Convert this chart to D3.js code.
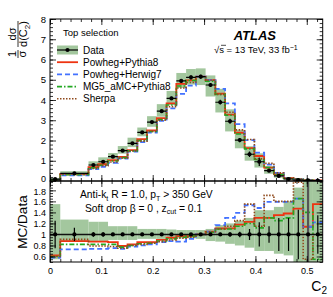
<!DOCTYPE html>
<html lang="en">
<head>
<meta charset="UTF-8">
<title>C2 - Top selection</title>
<script src="https://cdn.jsdelivr.net/npm/d3@7"></script>
<style>
  body { margin: 0; background: #fff; }
  svg text { font-family: "Liberation Sans", Arial, sans-serif; fill: #000; }
</style>
</head>
<body>
<div id="chart"></div>
<script>
// bin edges in C2
var edges = [0, 0.02, 0.075, 0.094, 0.113, 0.132, 0.151, 0.17, 0.189, 0.208, 0.227, 0.246, 0.265,
             0.284, 0.303, 0.322, 0.341, 0.36, 0.379, 0.398, 0.417, 0.436, 0.455, 0.474, 0.493, 0.512, 0.531];
// unfolded data, 1/sigma dsigma/dC2
var dataVals = [0.09, 0.38, 0.79, 0.95, 1.2, 1.5, 1.86, 2.4, 2.91, 3.45, 4.08, 4.94, 5.12,
                5.15, 4.74, 3.89, 2.95, 2.02, 1.32, 0.95, 0.51, 0.25, 0.1, 0.05, 0.03, 0.02];
// relative stat error (bars) and total uncertainty band (up / down)
var statErr = [0.25, 0.12, 0.04, 0.04, 0.03, 0.03, 0.03, 0.03, 0.02, 0.02, 0.02, 0.02, 0.02,
               0.02, 0.02, 0.03, 0.04, 0.05, 0.1, 0.22, 0.15, 0.3, 0.3, 0.45, 1.2, 0.35];
var bandUp = [0.55, 0.27, 0.23, 0.23, 0.15, 0.15, 0.15, 0.1, 0.1, 0.1, 0.09, 0.08, 0.08,
              0.08, 0.1, 0.17, 0.2, 0.25, 0.3, 0.44, 0.44, 0.5, 0.6, 0.85, 1.1, 1.1];
var bandDn = [0.45, 0.13, 0.12, 0.12, 0.1, 0.1, 0.1, 0.08, 0.08, 0.08, 0.08, 0.07, 0.07,
              0.08, 0.12, 0.13, 0.17, 0.2, 0.24, 0.3, 0.3, 0.35, 0.38, 0.5, 0.6, 0.6];
// MC / Data ratios
var ratioPP8 = [0.62, 0.88, 0.87, 0.87, 0.86, 0.79, 0.82, 0.86, 0.86, 0.9, 0.94, 0.97, 0.97,
                1.0, 1.05, 1.11, 1.11, 1.18, 1.23, 1.3, 1.3, 1.35, 1.38, 1.47, 1.14, 1.55];
var ratioPH7 = [0.58, 0.73, 0.74, 0.74, 0.75, 0.74, 0.78, 0.8, 0.82, 0.86, 0.88, 0.87, 0.92,
                1.0, 1.05, 1.17, 1.3, 1.39, 1.53, 1.48, 1.59, 1.59, 1.59, 1.65, 1.14, 1.22];
var ratioMG5 = [0.6, 0.82, 0.82, 0.82, 0.82, 0.77, 0.8, 0.83, 0.84, 0.88, 0.92, 0.95, 0.97,
                1.0, 1.04, 1.1, 1.1, 1.15, 1.2, 1.12, 1.3, 1.25, 1.3, 1.65, 1.4, 0.55];
var ratioSherpa = [0.6, 0.91, 0.79, 0.79, 0.78, 0.75, 0.8, 0.82, 0.84, 0.87, 0.9, 0.93, 0.95,
                   1.0, 1.05, 1.1, 1.15, 1.25, 1.55, 1.15, 1.71, 1.6, 1.6, 1.95, 0.55, 1.0];
var generators = ["Powheg+Pythia8", "Powheg+Herwig7", "MG5_aMC+Pythia8", "Sherpa"];

var xTicks = [0, 0.1, 0.2, 0.3, 0.4, 0.5];
var yTopTicks = [0, 1, 2, 3, 4, 5, 6, 7, 8];
var yRatTicks = [0.6, 0.8, 1, 1.2, 1.4, 1.6, 1.8];

var W = 333, H = 297;
var L = 50, R = 322.7, T = 19, M = 181, B = 262;

var svg = d3.select("#chart").append("svg")
  .attr("width", W).attr("height", H);

var x = d3.scaleLinear().domain([0, 0.531]).range([L, R]);
var yTop = d3.scaleLinear().domain([0, 8]).range([M, T]);
var yRat = d3.scaleLinear().domain([0.5, 1.97]).range([B, M]);

var bins = dataVals.map(function(v, i) {
  return {lo: edges[i], hi: edges[i + 1], mid: (edges[i] + edges[i + 1]) / 2, v: v, i: i};
});

var styles = [
  {name: generators[0], r: ratioPP8, color: "#ee3311", dash: null, w: 1.8},
  {name: generators[1], r: ratioPH7, color: "#4372ff", dash: "5,3", w: 1.8},
  {name: generators[2], r: ratioMG5, color: "#22a822", dash: "5,2,1.5,2", w: 1.6},
  {name: generators[3], r: ratioSherpa, color: "#8f4a1c", dash: "1.5,1.5", w: 1.6}
];
var bandColor = "#a3c79e";

var defs = svg.append("defs");
defs.append("clipPath").attr("id", "clipTop").append("rect")
  .attr("x", L).attr("y", T).attr("width", R - L).attr("height", M - T);
defs.append("clipPath").attr("id", "clipRat").append("rect")
  .attr("x", L).attr("y", M).attr("width", R - L).attr("height", B - M);

function stepPoints(vals) {
  var pts = [];
  bins.forEach(function(b, i) { pts.push([b.lo, vals[i]]); pts.push([b.hi, vals[i]]); });
  return pts;
}

// ---------- upper panel ----------
var upper = svg.append("g").attr("clip-path", "url(#clipTop)");

upper.selectAll("rect.band").data(bins).enter().append("rect")
  .attr("class", "band")
  .attr("x", function(d) { return x(d.lo); })
  .attr("width", function(d) { return x(d.hi) - x(d.lo); })
  .attr("y", function(d) { return yTop(d.v * (1 + bandUp[d.i])); })
  .attr("height", function(d) { return yTop(d.v * (1 - bandDn[d.i])) - yTop(d.v * (1 + bandUp[d.i])); })
  .attr("fill", bandColor);

var lineTop = d3.line().x(function(d) { return x(d[0]); }).y(function(d) { return yTop(d[1]); });
styles.forEach(function(s) {
  var vals = dataVals.map(function(v, i) { return v * s.r[i]; });
  upper.append("path")
    .attr("d", lineTop(stepPoints(vals)))
    .attr("fill", "none").attr("stroke", s.color).attr("stroke-width", s.w)
    .attr("stroke-dasharray", s.dash);
});

upper.selectAll("line.hbar").data(bins).enter().append("line")
  .attr("x1", function(d) { return x(d.lo); }).attr("x2", function(d) { return x(d.hi); })
  .attr("y1", function(d) { return yTop(d.v); }).attr("y2", function(d) { return yTop(d.v); })
  .attr("stroke", "#000").attr("stroke-width", 1.2);
upper.selectAll("line.vbar").data(bins).enter().append("line")
  .attr("x1", function(d) { return x(d.mid); }).attr("x2", function(d) { return x(d.mid); })
  .attr("y1", function(d) { return yTop(d.v * (1 + statErr[d.i])); })
  .attr("y2", function(d) { return yTop(d.v * (1 - statErr[d.i])); })
  .attr("stroke", "#000").attr("stroke-width", 1.2);
upper.selectAll("circle").data(bins).enter().append("circle")
  .attr("cx", function(d) { return x(d.mid); }).attr("cy", function(d) { return yTop(d.v); })
  .attr("r", 2.1).attr("fill", "#000");

// ---------- ratio panel ----------
var rat = svg.append("g").attr("clip-path", "url(#clipRat)");

rat.selectAll("rect.band").data(bins).enter().append("rect")
  .attr("x", function(d) { return x(d.lo); })
  .attr("width", function(d) { return x(d.hi) - x(d.lo); })
  .attr("y", function(d) { return yRat(1 + bandUp[d.i]); })
  .attr("height", function(d) { return yRat(1 - bandDn[d.i]) - yRat(1 + bandUp[d.i]); })
  .attr("fill", bandColor);

var lineRat = d3.line().x(function(d) { return x(d[0]); }).y(function(d) { return yRat(d[1]); });
styles.forEach(function(s) {
  rat.append("path")
    .attr("d", lineRat(stepPoints(s.r)))
    .attr("fill", "none").attr("stroke", s.color).attr("stroke-width", s.w)
    .attr("stroke-dasharray", s.dash);
});

rat.append("line")
  .attr("x1", x(0)).attr("x2", x(0.531)).attr("y1", yRat(1)).attr("y2", yRat(1))
  .attr("stroke", "#111").attr("stroke-width", 1.4);
rat.selectAll("line.vbar").data(bins).enter().append("line")
  .attr("x1", function(d) { return x(d.mid); }).attr("x2", function(d) { return x(d.mid); })
  .attr("y1", function(d) { return yRat(1 + statErr[d.i]); })
  .attr("y2", function(d) { return yRat(1 - statErr[d.i]); })
  .attr("stroke", function(d) { return statErr[d.i] > 0.9 ? "#555" : "#000"; })
  .attr("stroke-width", function(d) { return statErr[d.i] > 0.9 ? 2.2 : 1.2; });
rat.selectAll("circle").data(bins).enter().append("circle")
  .attr("cx", function(d) { return x(d.mid); }).attr("cy", yRat(1))
  .attr("r", 2.1).attr("fill", "#000");

// ---------- axes ----------
function ax(gen, tx, ty, size, values, fmt, fsize) {
  var g = svg.append("g").attr("transform", "translate(" + tx + "," + ty + ")")
    .call(gen.tickValues(values).tickSize(size).tickPadding(fmt ? 4 : 0)
      .tickFormat(fmt || function() { return ""; }));
  g.select(".domain").remove();
  g.selectAll("line").attr("stroke", "#000").attr("stroke-width", 0.8);
  g.selectAll("text").attr("font-size", fsize || 9).attr("font-family", "Liberation Sans, Arial, sans-serif");
  return g;
}
var xMinor = d3.range(0, 0.531, 0.02);
var yTopMinor = d3.range(0, 8.01, 0.2);
var yRatMinor = d3.range(0.5, 1.97, 0.05);

// upper panel
ax(d3.axisBottom(x), 0, M, -6, xTicks);
ax(d3.axisBottom(x), 0, M, -3, xMinor);
ax(d3.axisTop(x), 0, T, -6, xTicks);
ax(d3.axisTop(x), 0, T, -3, xMinor);
var yla = ax(d3.axisLeft(yTop), L, 0, -6, yTopTicks, d3.format("d"), 9.5);
yla.selectAll("text").filter(function(d) { return d === 0; }).attr("dy", "0.1em").attr("font-size", 9);
ax(d3.axisLeft(yTop), L, 0, -3, yTopMinor);
ax(d3.axisRight(yTop), R, 0, -6, yTopTicks);
ax(d3.axisRight(yTop), R, 0, -3, yTopMinor);
// ratio panel
var xa = ax(d3.axisBottom(x), 0, B, -6, xTicks, function(d) { return d === 0 ? "0" : d3.format(".1f")(d); }, 9);
xa.selectAll("text").attr("y", 6);
ax(d3.axisBottom(x), 0, B, -3, xMinor);
ax(d3.axisTop(x), 0, M, -6, xTicks);
ax(d3.axisTop(x), 0, M, -3, xMinor);
var yra = ax(d3.axisLeft(yRat), L, 0, -6, yRatTicks, function(d) { return d === 1 ? "1" : d3.format(".1f")(d); }, 9);
yra.selectAll("text").filter(function(d) { return d === 1.8; }).attr("dy", "0.45em");
ax(d3.axisLeft(yRat), L, 0, -3, yRatMinor);
ax(d3.axisRight(yRat), R, 0, -6, yRatTicks);
ax(d3.axisRight(yRat), R, 0, -3, yRatMinor);

svg.append("rect").attr("x", L).attr("y", T).attr("width", R - L).attr("height", M - T)
  .attr("fill", "none").attr("stroke", "#000").attr("stroke-width", 1);
svg.append("rect").attr("x", L).attr("y", M).attr("width", R - L).attr("height", B - M)
  .attr("fill", "none").attr("stroke", "#000").attr("stroke-width", 1);

// ---------- labels ----------
// 1/sigma dsigma/d(C2), rotated
var yl = svg.append("g").attr("transform", "translate(18,58) rotate(-90)");
yl.append("text").attr("x", 4).attr("y", -2.5).attr("text-anchor", "middle").attr("font-size", 11).text("1");
yl.append("line").attr("x1", 0).attr("x2", 8).attr("y1", 0).attr("y2", 0).attr("stroke", "#000").attr("stroke-width", 0.8);
yl.append("text").attr("x", 4).attr("y", 8).attr("text-anchor", "middle").attr("font-size", 11).text("σ");
yl.append("text").attr("x", 24).attr("y", -2.5).attr("text-anchor", "middle").attr("font-size", 11).text("dσ");
yl.append("line").attr("x1", 11).attr("x2", 37).attr("y1", 0).attr("y2", 0).attr("stroke", "#000").attr("stroke-width", 0.8);
var dc = yl.append("text").attr("x", 24).attr("y", 9).attr("text-anchor", "middle").attr("font-size", 11);
dc.append("tspan").text("d(C");
dc.append("tspan").attr("font-size", 8).attr("dy", 2.5).text("2");
dc.append("tspan").attr("dy", -2.5).text(")");

svg.append("text").attr("transform", "translate(27,222) rotate(-90)")
  .attr("text-anchor", "middle").attr("font-size", 13.5).text("MC/Data");

var xl = svg.append("text").attr("x", 327).attr("y", 291).attr("text-anchor", "end").attr("font-size", 14);
xl.append("tspan").text("C");
xl.append("tspan").attr("font-size", 10).attr("dy", 3).text("2");

svg.append("text").attr("x", 63).attr("y", 35.5).attr("font-size", 9.5).text("Top selection");

// legend
var legY = [50, 62.2, 74.4, 86.6, 98.8];
var lg = svg.append("g");
lg.append("rect").attr("x", 57).attr("y", legY[0] - 4.5).attr("width", 21).attr("height", 9).attr("fill", bandColor);
lg.append("line").attr("x1", 57).attr("x2", 78).attr("y1", legY[0]).attr("y2", legY[0]).attr("stroke", "#000").attr("stroke-width", 1.2);
lg.append("circle").attr("cx", 67.5).attr("cy", legY[0]).attr("r", 2.1).attr("fill", "#000");
lg.append("text").attr("x", 83).attr("y", legY[0] + 3.5).attr("font-size", 10).text("Data");
styles.forEach(function(s, i) {
  var yy = legY[i + 1];
  lg.append("line").attr("x1", 57).attr("x2", 78).attr("y1", yy).attr("y2", yy)
    .attr("stroke", s.color).attr("stroke-width", s.w).attr("stroke-dasharray", s.dash);
  lg.append("text").attr("x", 83).attr("y", yy + 3.5).attr("font-size", 10).text(s.name);
});

svg.append("text").attr("x", 276).attr("y", 39.5).attr("text-anchor", "end")
  .attr("font-size", 13).attr("font-weight", "bold").attr("font-style", "italic").text("ATLAS");
var en = svg.append("text").attr("x", 214).attr("y", 53).attr("font-size", 9.5);
en.append("tspan").text("√s = 13 TeV, 33 fb");
en.append("tspan").attr("font-size", 7).attr("dy", -3.5).text("−1");
svg.append("line").attr("x1", 221).attr("x2", 226).attr("y1", 45.3).attr("y2", 45.3)
  .attr("stroke", "#000").attr("stroke-width", 0.7);

var t1 = svg.append("text").attr("x", 80).attr("y", 198).attr("font-size", 10.3);
t1.append("tspan").text("Anti-k");
t1.append("tspan").attr("font-size", 7).attr("dy", 2.5).text("t");
t1.append("tspan").attr("dy", -2.5).text(" R = 1.0, p");
t1.append("tspan").attr("font-size", 7).attr("dy", 2.5).text("T");
t1.append("tspan").attr("dy", -2.5).text(" > 350 GeV");
var t2 = svg.append("text").attr("x", 85).attr("y", 211.5).attr("font-size", 10.3);
t2.append("tspan").text("Soft drop β = 0 , z");
t2.append("tspan").attr("font-size", 7).attr("dy", 2.5).text("cut");
t2.append("tspan").attr("dy", -2.5).text(" = 0.1");
</script>
</body>
</html>
